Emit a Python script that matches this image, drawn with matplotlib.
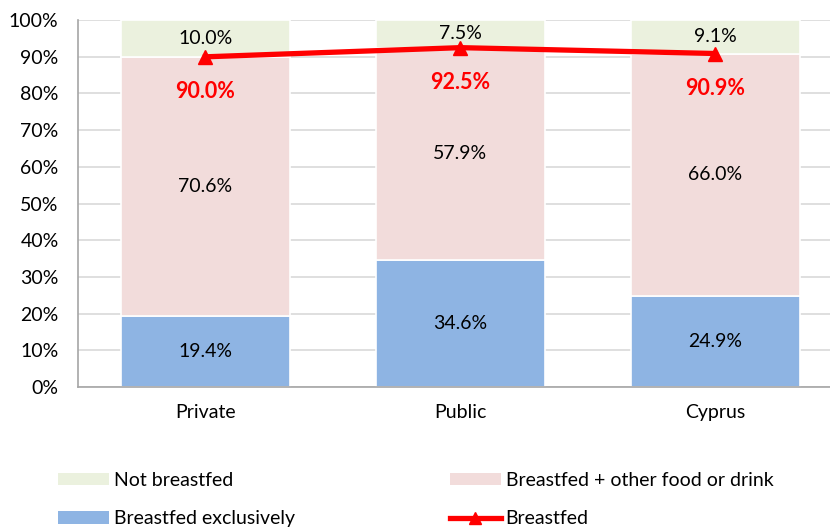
import matplotlib
matplotlib.use("Agg")
import matplotlib.pyplot as plt
from matplotlib.patches import Patch
from matplotlib.lines import Line2D

categories = ["Private", "Public", "Cyprus"]
exclusive = [19.4, 34.6, 24.9]
other_food = [70.6, 57.9, 66.0]
not_bf = [10.0, 7.5, 9.1]
breastfed = [90.0, 92.5, 90.9]
yticks = [0, 10, 20, 30, 40, 50, 60, 70, 80, 90, 100]

plt.rcParams['font.family'] = ['Lato', 'DejaVu Sans']

c_excl = "#8EB4E3"
c_other = "#F2DCDB"
c_not = "#EBF1DE"
c_line = "#FF0000"

fig = plt.figure(figsize=(8.3, 5.3), dpi=100)
ax = fig.add_axes([0.094, 0.270, 0.906, 0.692])

x = list(range(len(categories)))
w = 0.665
ax.bar(x, exclusive, w, color=c_excl, edgecolor="white", linewidth=1.2, zorder=2)
ax.bar(x, other_food, w, bottom=exclusive, color=c_other, edgecolor="white", linewidth=1.2, zorder=2)
bot3 = [a + b for a, b in zip(exclusive, other_food)]
ax.bar(x, not_bf, w, bottom=bot3, color=c_not, edgecolor="white", linewidth=1.2, zorder=2)

fs = 14
for i in x:
    ax.text(i, exclusive[i] / 2, f"{exclusive[i]:.1f}%", ha="center", va="center", fontsize=fs, color="#000000", zorder=4)
    ax.text(i, exclusive[i] + other_food[i] / 2, f"{other_food[i]:.1f}%", ha="center", va="center", fontsize=fs, color="#000000", zorder=4)
    ax.text(i, bot3[i] + not_bf[i] / 2, f"{not_bf[i]:.1f}%", ha="center", va="center", fontsize=fs, color="#000000", zorder=4)

ax.plot(x, breastfed, color=c_line, linewidth=3.8, marker="^", markersize=10, zorder=5)
for i in x:
    ax.annotate(f"{breastfed[i]:.1f}%", (i, breastfed[i]), xytext=(0, -25), textcoords="offset points",
                ha="center", va="center", fontsize=15.5, fontweight="bold", color=c_line, zorder=6)

ax.set_xlim(-0.5, 2.45)
ax.set_ylim(0, 100)
ax.set_yticks(yticks)
ax.set_yticklabels([f"{t}%" for t in yticks])
ax.set_xticks(x)
ax.set_xticklabels(categories)
ax.tick_params(axis="both", length=0, labelsize=fs, colors="#000000")
ax.tick_params(axis="x", pad=12)
ax.tick_params(axis="y", pad=14)
ax.yaxis.grid(True, color="#D9D9D9", linewidth=1.2, zorder=0)
ax.set_axisbelow(True)
for s in ["top", "right"]:
    ax.spines[s].set_visible(False)
ax.spines["left"].set_color("#A6A6A6")
ax.spines["bottom"].set_color("#A6A6A6")
ax.spines["left"].set_linewidth(1.2)
ax.spines["bottom"].set_linewidth(1.2)

handles = [
    Patch(facecolor=c_not, edgecolor="none"),
    Patch(facecolor=c_excl, edgecolor="none"),
    Patch(facecolor=c_other, edgecolor="none"),
    Line2D([0], [0], color=c_line, linewidth=3.8, marker="^", markersize=8),
]
labels = ["Not breastfed", "Breastfed exclusively", "Breastfed + other food or drink", "Breastfed"]
fig.legend(handles, labels, ncol=2, loc="lower left", bbox_to_anchor=(0.049, -0.028),
           frameon=False, fontsize=fs, handlelength=2.6, handleheight=0.6, handletextpad=0.25,
           columnspacing=8.0, labelspacing=1.1)

fig.savefig("out.png", dpi=100)
